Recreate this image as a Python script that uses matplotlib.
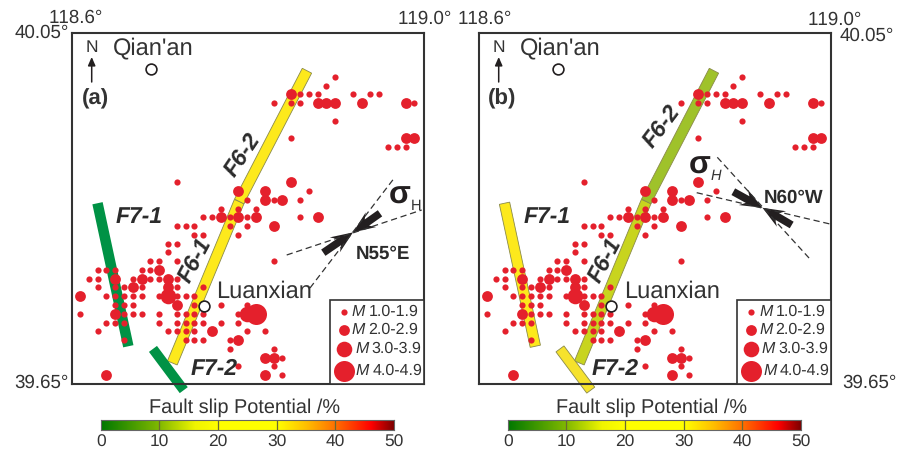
import numpy as np
import matplotlib
matplotlib.use("Agg")
import matplotlib.pyplot as plt
from matplotlib.colors import LinearSegmentedColormap
from matplotlib.patches import Polygon, Rectangle

plt.rcParams['font.family'] = ['Liberation Sans', 'DejaVu Sans']
plt.rcParams['text.kerning_factor'] = 6
plt.rcParams['text.hinting'] = 'none'

# Catalogue: latitude (in 0.01 deg) -> longitudes (in 0.01 deg), by magnitude class
m1_events = {
    4000: [11890], 3999: [11889], 3998: [11886, 11887, 11888, 11892, 11894, 11895],
    3997: [11883, 11885, 11886, 11899], 3995: [11890], 3993: [11885],
    3992: [11896, 11897, 11898], 3988: [11872], 3987: [11887],
    3986: [11880, 11883, 11886], 3985: [11877, 11879, 11881],
    3984: [11875, 11876, 11878, 11880, 11886],
    3983: [11872, 11873, 11874, 11878, 11880], 3982: [11874, 11875, 11879],
    3981: [11871, 11872], 3980: [11871], 3979: [11869, 11870, 11872, 11883],
    3978: [11863, 11864, 11865, 11868, 11869],
    3977: [11862, 11863, 11867, 11869, 11870, 11872],
    3976: [11863, 11865, 11866, 11868, 11872, 11875],
    3975: [11864, 11865, 11866, 11867, 11868, 11870, 11872, 11873, 11874],
    3974: [11865, 11866, 11867, 11874, 11877, 11880],
    3973: [11861, 11866, 11867, 11868, 11870, 11872, 11873, 11874, 11875, 11879],
    3972: [11864, 11865, 11866, 11870, 11872, 11873, 11874, 11875, 11877, 11879],
    3971: [11863, 11871, 11872, 11873, 11874, 11880, 11882],
    3970: [11866, 11873, 11874, 11875, 11878], 3969: [11878, 11883],
    3968: [11884], 3967: [11879, 11883], 3966: [11884],
}
m2_events = {
    3998: [11885], 3997: [11888, 11889, 11890, 11893, 11898], 3993: [11898, 11899],
    3988: [11885], 3987: [11879, 11882], 3986: [11882, 11884],
    3984: [11877, 11879, 11881, 11888], 3983: [11883], 3978: [11870],
    3977: [11865, 11868, 11871], 3976: [11867, 11871], 3975: [11861],
    3974: [11872], 3973: [11865], 3971: [11876], 3970: [11879],
    3968: [11882, 11883], 3966: [11864, 11882],
}
m3_events = {3975: [11871], 3973: [11880]}
m4_events = {3973: [11881]}

# Faults: (lon0, lat0, lon1, lat1)
f6_2 = (118.868, 40.007, 118.791, 39.858)
f6_1 = (118.791, 39.858, 118.715, 39.674)
f7_1 = (118.630, 39.856, 118.665, 39.693)
f7_2 = (118.693, 39.690, 118.728, 39.643)

# Fault colours per panel
colors_a = {'F6-2': '#fde91c', 'F6-1': '#fde91c', 'F7-1': '#009245', 'F7-2': '#009245'}
colors_b = {'F6-2': '#9fc22a', 'F6-1': '#c8d41e', 'F7-1': '#fde91c', 'F7-2': '#f6e22c'}

# Cities
cities = {'Qian\'an': (118.6906, 40.009), 'Luanxian': (118.751, 39.739)}

# Colour bar
cbar_ticks = [0, 10, 20, 30, 40, 50]
cbar_stops = [0, 10, 16, 20, 30, 35, 40, 46, 50]
cbar_colors = ['#007800', '#82b900', '#f0f500', '#ffff00', '#ffff00', '#ffbe00',
               '#ff6e00', '#ff0000', '#780000']

legend_labels = ['1.0-1.9', '2.0-2.9', '3.0-3.9', '4.0-4.9']
class_radius = [3.1, 5.4, 7.8, 10.5]   # px
DARK = '#333333'
RED = '#e4202c'

W, H = 898, 451
fig = plt.figure(figsize=(W / 100, H / 100), dpi=100)


def fx(x):
    return x / W


def fy(y):
    return 1 - y / H


def ptxt(x, y, s, **kw):
    kw.setdefault('ha', 'center')
    kw.setdefault('va', 'center')
    kw.setdefault('color', DARK)
    return fig.text(fx(x), fy(y), s, **kw)


def s_of(r):
    return (2 * r * 0.72) ** 2


def fig_line(xs, ys, **kw):
    fig.add_artist(plt.Line2D([fx(x) for x in xs], [fy(y) for y in ys],
                              transform=fig.transFigure, **kw))


def fig_arrow(tail, tip):
    """Barbed stress arrow in pixel space."""
    tail, tip = np.array(tail, float), np.array(tip, float)
    u = (tail - tip) / np.linalg.norm(tail - tip)
    v = np.array([-u[1], u[0]])
    L = np.linalg.norm(tail - tip)
    local = [(0, 0), (22, 9), (17, 3.8), (L, 3.8), (L, -3.8), (17, -3.8), (22, -9)]
    pts = [tip + a * u + b * v for a, b in local]
    fig.add_artist(Polygon([(fx(p[0]), fy(p[1])) for p in pts], closed=True,
                           transform=fig.transFigure, fc='#231f20', ec='none'))


def fault_poly(ax, seg, color, px_width, x_per_deg=880.0, y_per_deg=877.5):
    x0, y0, x1, y1 = seg
    p0 = np.array([x0 * x_per_deg, y0 * y_per_deg])
    p1 = np.array([x1 * x_per_deg, y1 * y_per_deg])
    d = (p1 - p0) / np.linalg.norm(p1 - p0)
    n = np.array([-d[1], d[0]]) * px_width / 2
    corners = [p0 + n, p1 + n, p1 - n, p0 - n]
    xy = [(c[0] / x_per_deg, c[1] / y_per_deg) for c in corners]
    edge = 'none' if color == '#009245' else '#8a8a4a'
    ax.add_patch(Polygon(xy, closed=True, fc=color, ec=edge, lw=0.6,
                         clip_on=False, zorder=2))


def panel(x0, colors, panel_label, sig):
    ax = fig.add_axes([fx(x0), fy(384), 352 / W, 351 / H])
    ax.set_xlim(118.601, 119.001)
    ax.set_ylim(39.65, 40.05)
    ax.set_xticks([])
    ax.set_yticks([])
    ax.patch.set_alpha(0)
    for sp in ax.spines.values():
        sp.set_linewidth(1.5)
        sp.set_color(DARK)
    fault_poly(ax, f7_1, colors['F7-1'], 10.5)
    fault_poly(ax, f6_1, colors['F6-1'], 10.5)
    fault_poly(ax, f6_2, colors['F6-2'], 10.5)
    fault_poly(ax, f7_2, colors['F7-2'], 10)
    for events, r in zip([m1_events, m2_events, m3_events, m4_events], class_radius):
        lons = [lo / 100 for la, row in events.items() for lo in row]
        lats = [la / 100 for la, row in events.items() for _ in row]
        ax.scatter(lons, lats, s=s_of(r), c=RED, lw=0, zorder=3)
    for lon, lat in cities.values():
        ax.scatter([lon], [lat], s=s_of(5.4), fc='white', ec='#231f20', lw=1.2, zorder=4)

    dx = x0 - 72
    ptxt(91.7 + dx, 48, 'N', fontsize=12.5)
    fig.add_artist(plt.Annotation('', xy=(fx(91.7 + dx), fy(57)), xytext=(fx(91.7 + dx), fy(82)),
                                  xycoords='figure fraction', textcoords='figure fraction',
                                  arrowprops=dict(arrowstyle='-|>,head_width=0.22,head_length=0.5',
                                                  color='#231f20', lw=1.1, shrinkA=0, shrinkB=0)))
    ptxt(95 + dx, 99, panel_label, fontsize=16, fontweight='bold')
    ptxt(153.5 + dx, 48, "Qian'an", fontsize=17)
    ptxt(sig['lx'], 292, 'Luanxian', fontsize=17)
    for lbl, (x, y, rot) in sig['faults'].items():
        ptxt(x, y, lbl, fontsize=16.5, fontweight='bold', fontstyle='italic', rotation=rot,
             color='#2b2b2b')

    # Legend
    lx = x0 + 257.5
    fig.add_artist(Rectangle((fx(lx), fy(384)), (x0 + 352 - lx) / W, 84 / H, transform=fig.transFigure,
                             fc='white', ec=DARK, lw=1.2, zorder=5))
    a2 = fig.add_axes([0, 0, 1, 1], zorder=6)
    a2.set_xlim(0, W)
    a2.set_ylim(H, 0)
    a2.axis('off')
    rows_y = [312, 329.5, 348.5, 370.5]
    mx = [352, 352, 355, 356]
    for i, (yy, lab, r) in enumerate(zip(rows_y, legend_labels, class_radius)):
        a2.scatter([x0 + 271.7], [yy], s=s_of(r), c=RED, lw=0)
        a2.text(mx[i] + dx, yy, 'M', fontstyle='italic', fontsize=11.5, ha='left', va='center',
                color=DARK)
        a2.text(mx[i] + dx + 16.5, yy, lab, fontsize=11.5, ha='left', va='center', color=DARK)

    # Stress field
    for seg in sig['dash']:
        fig_line(seg[0], seg[1], color=DARK, lw=0.9, ls=(0, (5, 3)), zorder=7)
    for tail in sig['tails']:
        fig_arrow(tail, sig['centre'])
    ptxt(sig['sx'], sig['sy'], '\u03c3', fontsize=23, fontweight='bold', color='#231f20')
    ptxt(sig['hx'], sig['hy'], 'H', fontsize=10.5, fontstyle=sig['hstyle'], color=DARK)
    ptxt(sig['nx'], sig['ny'], sig['ntxt'], fontsize=13.5, fontweight='bold', color='#2b2b2b')

    # Colour bar
    cb_x = x0 + 28.8
    cax = fig.add_axes([fx(cb_x), fy(430), 293.3 / W, 10 / H])
    cmap = LinearSegmentedColormap.from_list(
        'fsp', [(s / 50, c) for s, c in zip(cbar_stops, cbar_colors)], N=512)
    grad = np.linspace(0, 50, 512).reshape(1, -1)
    cax.imshow(grad, aspect='auto', cmap=cmap, extent=[0, 50, 0, 1], vmin=0, vmax=50)
    cax.set_xticks(cbar_ticks)
    cax.set_yticks([])
    cax.tick_params(axis='x', length=0, pad=3, labelsize=12.5, labelcolor=DARK)
    for t in cbar_ticks[1:-1]:
        cax.axvline(t, color='#6a6a30', lw=0.9)
    for sp in cax.spines.values():
        sp.set_linewidth(0.8)
        sp.set_color('#666666')
    ptxt(cb_x + 143.6, 407.3, 'Fault slip Potential /%', fontsize=14.3)


panel(72, colors_a, '(a)', dict(
    lx=264,
    faults={'F7-1': (139, 217, 0), 'F6-2': (243, 155, 56), 'F6-1': (195, 260, 62), 'F7-2': (214, 369, 0)},
    dash=[([286.7, 421.7], [255, 210]), ([310, 393.3], [288, 179.3])],
    tails=[(323.3, 252.7), (380, 213.3)], centre=(353, 232.4),
    sx=399.5, sy=195, hx=416, hy=206, hstyle='normal',
    nx=383.3, ny=253.5, ntxt='N55\u00b0E'))
panel(479, colors_b, '(b)', dict(
    lx=672,
    faults={'F7-1': (547, 217, 0), 'F6-2': (662, 127, 53), 'F6-1': (605, 260, 62), 'F7-2': (615, 369, 0)},
    dash=[([717.3, 809.3], [157.3, 258.3]), ([696.7, 830], [192.7, 224])],
    tails=[(733.3, 191.7), (791.7, 225)], centre=(762.5, 207.8),
    sx=700, sy=165, hx=716, hy=176, hstyle='italic',
    nx=793.3, ny=198.3, ntxt='N60\u00b0W'))

# Corner coordinate labels
ptxt(76, 18, '118.6\u00b0', fontsize=13.5)
ptxt(424.5, 19, '119.0\u00b0', fontsize=13.5)
ptxt(484.5, 19, '118.6\u00b0', fontsize=13.5)
ptxt(834.5, 20, '119.0\u00b0', fontsize=13.5)
ptxt(69, 33, '40.05\u00b0', fontsize=13.5, ha='right')
ptxt(69, 383, '39.65\u00b0', fontsize=13.5, ha='right')
ptxt(840, 36, '40.05\u00b0', fontsize=13.5, ha='left')
ptxt(842, 383, '39.65\u00b0', fontsize=13.5, ha='left')

fig.savefig('out.png', dpi=100, facecolor='white')
